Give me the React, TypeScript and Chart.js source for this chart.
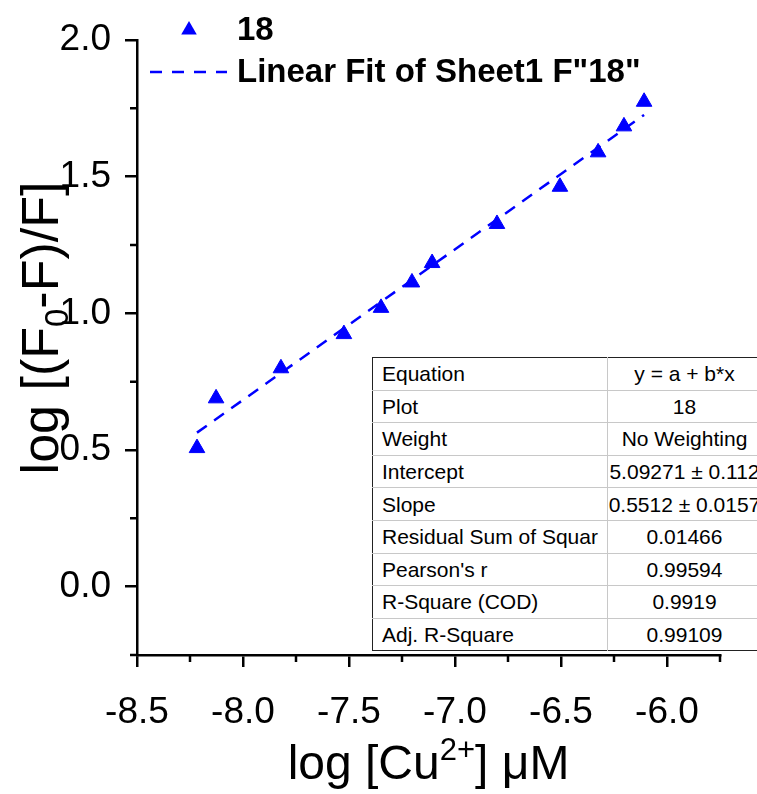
import React, { useEffect, useRef } from "react";
import { Chart, registerables } from "chart.js";

Chart.register(...registerables);

// ---- data ----
const xValues = [-8.217, -8.127, -7.821, -7.524, -7.349, -7.203, -7.108, -6.802, -6.505, -6.325, -6.203, -6.108];
const yValues = [0.507, 0.689, 0.799, 0.924, 1.02, 1.113, 1.184, 1.327, 1.463, 1.589, 1.684, 1.774];
const fitIntercept = 5.09271;
const fitSlope = 0.5512;

const xMajorTicks = [-8.5, -8.0, -7.5, -7.0, -6.5, -6.0];
const xMinorTicks = [-8.25, -7.75, -7.25, -6.75, -6.25, -5.75];
const yMajorTicks = [0.0, 0.5, 1.0, 1.5, 2.0];
const yMinorTicks = [-0.25, 0.25, 0.75, 1.25, 1.75];

const seriesName = "18";
const fitName = 'Linear Fit of Sheet1 F"18"';

const tableLabels = [
  "Equation",
  "Plot",
  "Weight",
  "Intercept",
  "Slope",
  "Residual Sum of Squar",
  "Pearson's r",
  "R-Square (COD)",
  "Adj. R-Square",
];
const tableValues = [
  "y = a + b*x",
  "18",
  "No Weighting",
  "5.09271 ± 0.112",
  "0.5512 ± 0.0157",
  "0.01466",
  "0.99594",
  "0.9919",
  "0.99109",
];

const FONT = "Arial, 'Liberation Sans', sans-serif";
const BLUE = "#0000ff";

type Seg = { text: string; size: number; dy: number };

function drawRich(ctx: CanvasRenderingContext2D, segs: Seg[], startCenter: number) {
  let total = 0;
  const widths = segs.map((s) => {
    ctx.font = `${s.size}px ${FONT}`;
    const w = ctx.measureText(s.text).width;
    total += w;
    return w;
  });
  let x = startCenter - total / 2;
  segs.forEach((s, i) => {
    ctx.font = `${s.size}px ${FONT}`;
    ctx.fillText(s.text, x, s.dy);
    x += widths[i];
  });
}

const decorPlugin = {
  id: "decor",
  afterDraw(chart: any) {
    const ctx: CanvasRenderingContext2D = chart.ctx;
    const xs = chart.scales.x;
    const ys = chart.scales.y;
    const { left, right, bottom } = chart.chartArea;
    ctx.save();
    // minor ticks
    ctx.strokeStyle = "#000";
    ctx.lineWidth = 2.5;
    ctx.beginPath();
    xMinorTicks.forEach((v) => {
      const px = xs.getPixelForValue(v);
      ctx.moveTo(px, bottom);
      ctx.lineTo(px, bottom + 7);
    });
    yMinorTicks.forEach((v) => {
      const py = ys.getPixelForValue(v);
      ctx.moveTo(left, py);
      ctx.lineTo(left - 7, py);
    });
    ctx.stroke();

    // legend
    const r = 9;
    const tx = 189, ty = 30;
    ctx.fillStyle = BLUE;
    ctx.beginPath();
    for (let k = 0; k < 3; k++) {
      const a = -Math.PI / 2 + (k * 2 * Math.PI) / 3;
      const px = tx + Math.cos(a) * r;
      const py = ty + Math.sin(a) * r;
      if (k === 0) ctx.moveTo(px, py);
      else ctx.lineTo(px, py);
    }
    ctx.closePath();
    ctx.fill();

    ctx.strokeStyle = BLUE;
    ctx.lineWidth = 2.5;
    ctx.setLineDash([12, 10]);
    ctx.beginPath();
    ctx.moveTo(150, 72);
    ctx.lineTo(227, 72);
    ctx.stroke();
    ctx.setLineDash([]);

    ctx.fillStyle = "#000";
    ctx.textBaseline = "middle";
    ctx.textAlign = "left";
    ctx.font = `bold 33px ${FONT}`;
    ctx.fillText(seriesName, 237, 31);
    ctx.fillText(fitName, 237, 73);

    // x title
    ctx.textBaseline = "alphabetic";
    ctx.save();
    ctx.translate(0, 779);
    drawRich(
      ctx,
      [
        { text: "log [Cu", size: 48, dy: 0 },
        { text: "2+", size: 31, dy: -19 },
        { text: "] μM", size: 48, dy: 0 },
      ],
      (left + right) / 2
    );
    ctx.restore();

    // y title
    ctx.save();
    ctx.translate(58, 0);
    ctx.rotate(-Math.PI / 2);
    drawRich(
      ctx,
      [
        { text: "log [(F", size: 52, dy: 0 },
        { text: "0", size: 33, dy: 10 },
        { text: "-F)/F]", size: 52, dy: 0 },
      ],
      -328
    );
    ctx.restore();

    ctx.restore();
  },
};

export default function App() {
  const canvasRef = useRef<HTMLCanvasElement | null>(null);

  useEffect(() => {
    if (!canvasRef.current) return;
    const xMin = Math.min(...xValues);
    const xMax = Math.max(...xValues);
    const chart = new Chart(canvasRef.current, {
      type: "scatter",
      data: {
        datasets: [
          {
            type: "scatter",
            label: seriesName,
            data: xValues.map((x, i) => ({ x, y: yValues[i] })),
            pointStyle: "triangle",
            pointRadius: 9,
            pointBackgroundColor: BLUE,
            pointBorderColor: BLUE,
            pointBorderWidth: 1,
            showLine: false,
            order: 1,
          } as any,
          {
            type: "line",
            label: fitName,
            data: [
              { x: xMin, y: fitIntercept + fitSlope * xMin },
              { x: xMax, y: fitIntercept + fitSlope * xMax },
            ],
            borderColor: BLUE,
            borderWidth: 2.5,
            borderDash: [12, 9],
            pointRadius: 0,
            fill: false,
            order: 2,
          } as any,
        ],
      },
      options: {
        responsive: false,
        animation: false,
        devicePixelRatio: 1,
        layout: { padding: { top: 40, right: 37, left: 0, bottom: 0 } },
        plugins: {
          legend: { display: false },
          tooltip: { enabled: false },
          title: { display: false },
        },
        scales: {
          x: {
            type: "linear",
            min: -8.5,
            max: -5.75,
            afterBuildTicks: (s: any) => {
              s.ticks = xMajorTicks.map((v) => ({ value: v }));
            },
            afterFit: (s: any) => {
              s.height = 139;
            },
            grid: {
              drawOnChartArea: false,
              drawTicks: true,
              tickLength: 12,
              color: "#000",
              lineWidth: 2.5,
            },
            border: { display: true, color: "#000", width: 2.5 },
            ticks: {
              font: { family: FONT, size: 37 },
              color: "#000",
              padding: 24,
              maxRotation: 0,
              autoSkip: false,
              callback: (v: any) => Number(v).toFixed(1),
            },
          },
          y: {
            type: "linear",
            min: -0.25,
            max: 2.0,
            afterBuildTicks: (s: any) => {
              s.ticks = yMajorTicks.map((v) => ({ value: v }));
            },
            afterFit: (s: any) => {
              s.width = 137;
            },
            grid: {
              drawOnChartArea: false,
              drawTicks: true,
              tickLength: 12,
              color: "#000",
              lineWidth: 2.5,
            },
            border: { display: true, color: "#000", width: 2.5 },
            ticks: {
              font: { family: FONT, size: 37 },
              color: "#000",
              padding: 14,
              autoSkip: false,
              callback: (v: any) => Number(v).toFixed(1),
            },
          },
        },
      },
      plugins: [decorPlugin],
    });
    return () => chart.destroy();
  }, []);

  const rowH = 31.6;
  return (
    <div
      style={{
        position: "absolute",
        left: 0,
        top: 0,
        width: 757,
        height: 794,
        overflow: "hidden",
        background: "#fff",
      }}
    >
      <canvas
        ref={canvasRef}
        width={757}
        height={794}
        style={{ position: "absolute", left: 0, top: 0, width: 757, height: 794 }}
      />
      <table
        style={{
          position: "absolute",
          left: 372,
          top: 357,
          width: 389,
          borderCollapse: "collapse",
          tableLayout: "fixed",
          border: "1.5px solid #222",
          fontFamily: FONT,
          fontSize: 21,
          color: "#000",
          background: "#fff",
        }}
      >
        <colgroup>
          <col style={{ width: 235 }} />
          <col style={{ width: 154 }} />
        </colgroup>
        <tbody>
          {tableLabels.map((lab, i) => (
            <tr key={lab} style={{ height: rowH }}>
              <td
                style={{
                  borderTop: i === 0 ? "none" : "1.5px solid #c8c8c8",
                  borderRight: "1.5px solid #c8c8c8",
                  padding: "0 0 0 9px",
                  whiteSpace: "nowrap",
                  overflow: "hidden",
                  height: rowH,
                  lineHeight: "1",
                }}
              >
                {lab}
              </td>
              <td
                style={{
                  borderTop: i === 0 ? "none" : "1.5px solid #c8c8c8",
                  padding: 0,
                  textAlign: "center",
                  whiteSpace: "nowrap",
                  overflow: "hidden",
                  height: rowH,
                  lineHeight: "1",
                }}
              >
                {tableValues[i]}
              </td>
            </tr>
          ))}
        </tbody>
      </table>
    </div>
  );
}
